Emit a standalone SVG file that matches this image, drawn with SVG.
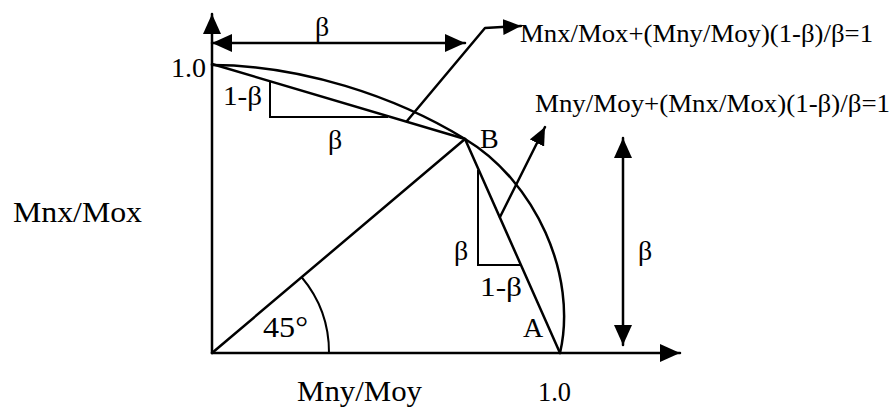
<svg xmlns="http://www.w3.org/2000/svg" width="894" height="409" viewBox="0 0 894 409">
<style>
  .ln { fill: none; stroke: #000; stroke-width: 2.5; stroke-linecap: round; stroke-linejoin: round; }
  .thin { fill: none; stroke: #000; stroke-width: 2; }
  .t { font-family: "Liberation Serif", "Times New Roman", serif; fill: #000; font-size: 28px; }
  .big { font-size: 30px; }
  .f { font-size: 26px; }
</style>
<defs>
  <marker id="ah" viewBox="0 0 20 18" refX="20" refY="9" markerWidth="20" markerHeight="18" markerUnits="userSpaceOnUse" orient="auto-start-reverse">
    <path d="M0,0 L20,9 L0,18 Z" fill="#000"/>
  </marker>
  <marker id="ahs" viewBox="0 0 18 16" refX="18" refY="8" markerWidth="18" markerHeight="16" markerUnits="userSpaceOnUse" orient="auto">
    <path d="M0,0 L18,8 L0,16 Z" fill="#000"/>
  </marker>
</defs>
<rect width="894" height="409" fill="#fff"/>

<g id="axes">
  <line class="ln" x1="212" y1="353" x2="212" y2="14" marker-end="url(#ah)"/>
  <line class="ln" x1="212" y1="353" x2="680" y2="353" marker-end="url(#ah)"/>
</g>

<g id="curve">
  <path class="ln" d="M212,65 C300,65 395,96 465,139 C535,181 578,275 560,353"/>
</g>

<g id="lines">
  <line class="ln" x1="212" y1="64" x2="465" y2="139"/>
  <line class="ln" x1="465" y1="139" x2="560" y2="353"/>
  <line class="ln" x1="212" y1="353" x2="465" y2="139"/>
  <path class="thin" d="M329,353 A117,117 0 0 0 301.5,277"/>
</g>

<g id="triangles">
  <path class="thin" d="M270,81 L270,117 L388,117"/>
  <path class="thin" d="M478,170 L478,265 L520,265"/>
</g>

<g id="connectors">
  <line class="ln" x1="212" y1="43" x2="465" y2="43" marker-start="url(#ah)" marker-end="url(#ah)"/>
  <line class="ln" x1="623" y1="138" x2="623" y2="345" marker-start="url(#ah)" marker-end="url(#ah)"/>
  <polyline class="ln" points="407,121 485,28 521,26" marker-end="url(#ahs)"/>
  <line class="ln" x1="500" y1="217" x2="545" y2="127" marker-end="url(#ahs)"/>
</g>

<g id="labels">
  <text class="t" x="322" y="36" text-anchor="middle">β</text>
  <text class="t" x="206" y="77" text-anchor="end">1.0</text>
  <text class="t" x="223" y="105" textLength="39" lengthAdjust="spacingAndGlyphs">1-β</text>
  <text class="t" x="335" y="149" text-anchor="middle">β</text>
  <text class="t" x="480" y="148">B</text>
  <text class="t f" x="520" y="42" textLength="353" lengthAdjust="spacingAndGlyphs">Mnx/Mox+(Mny/Moy)(1-β)/β=1</text>
  <text class="t f" x="535" y="112" textLength="355" lengthAdjust="spacingAndGlyphs">Mny/Moy+(Mnx/Mox)(1-β)/β=1</text>
  <text class="t big" x="13" y="222" textLength="129" lengthAdjust="spacingAndGlyphs">Mnx/Mox</text>
  <text class="t" x="461" y="260" text-anchor="middle">β</text>
  <text class="t" x="480" y="296" textLength="42" lengthAdjust="spacingAndGlyphs">1-β</text>
  <text class="t" x="645" y="260" text-anchor="middle">β</text>
  <text class="t big" x="263" y="337" textLength="45" lengthAdjust="spacingAndGlyphs">45°</text>
  <text class="t" x="523" y="337">A</text>
  <text class="t big" x="297" y="401" textLength="125" lengthAdjust="spacingAndGlyphs">Mny/Moy</text>
  <text class="t" x="538" y="401" textLength="33" lengthAdjust="spacingAndGlyphs">1.0</text>
</g>
</svg>
